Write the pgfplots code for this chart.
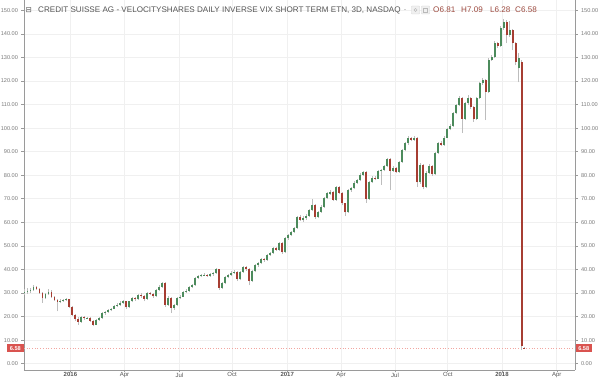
\documentclass[border=0pt]{standalone}
\usepackage{pgfplots}
\pgfplotsset{compat=1.18}
\usepackage{pgfplotstable}
\usepackage{fontspec}
\setmainfont{Liberation Sans}
\newfontfamily\dejavu{DejaVu Sans}
\definecolor{upc}{HTML}{4C8B5C}
\definecolor{dnc}{HTML}{A63D32}
\definecolor{wickc}{HTML}{BDBDBD}
\definecolor{gridc}{HTML}{F0F0F0}
\definecolor{axisc}{HTML}{9A9A9A}
\definecolor{labc}{HTML}{7A7A7A}
\definecolor{titc}{HTML}{555555}
\definecolor{ohlcc}{HTML}{9C4A3F}
\definecolor{pricec}{HTML}{D9534F}
\definecolor{dotc}{HTML}{F2A6A0}

% bar index, open, high, low, close
\pgfplotstableread{
x o h l c
0 29.8 31.6 29.2 30.4
1 30.4 32.0 29.6 30.8
2 30.8 32.2 30.2 31.4
3 31.4 33.2 31.0 32.6
7 28.0 30.0 27.4 29.6
8 29.6 31.6 29.2 30.6
12 26.3 27.4 25.6 26.8
13 26.8 27.6 26.2 27.0
14 27.0 27.9 26.4 27.4
19 17.8 20.2 17.4 19.6
21 19.2 20.0 18.8 19.4
24 16.6 18.9 16.2 18.6
25 18.6 19.8 18.2 19.4
26 19.4 21.8 19.0 21.4
27 21.4 22.4 20.8 21.9
28 21.9 23.0 21.4 22.6
29 22.6 23.8 22.2 23.4
30 23.4 24.8 23.0 24.4
31 24.4 25.6 24.0 25.0
32 25.0 26.4 24.6 25.8
33 25.8 27.0 25.4 26.4
35 23.9 26.8 23.6 26.4
36 26.4 28.4 26.0 27.9
38 27.3 29.6 27.0 29.2
41 27.6 30.4 27.2 30.0
44 28.6 31.6 28.2 31.3
45 31.3 33.2 30.8 32.7
46 32.7 34.8 32.2 34.2
48 25.0 28.6 24.6 27.8
50 23.6 25.4 22.8 24.9
51 24.9 28.2 24.6 27.9
52 27.9 29.0 27.4 28.5
53 28.5 30.8 28.2 30.4
54 30.4 31.6 30.0 31.0
55 31.0 33.0 30.6 32.6
56 32.6 33.8 32.2 33.2
57 33.2 36.8 33.0 36.4
58 36.4 37.6 36.0 37.0
59 37.0 38.2 36.6 37.7
60 37.7 38.4 37.2 37.8
62 37.2 38.4 36.8 37.9
63 37.9 38.8 37.4 38.3
64 38.3 40.6 38.0 40.0
66 32.2 34.8 31.6 34.2
67 34.2 37.0 33.8 36.6
68 36.6 38.2 36.2 37.7
69 37.7 39.2 37.2 38.6
70 38.6 39.6 38.0 39.0
72 35.8 39.4 35.4 39.0
73 39.0 41.6 38.6 41.2
76 35.2 39.6 34.8 39.2
77 39.2 42.2 38.8 41.8
78 41.8 43.2 41.2 42.7
79 42.7 44.8 42.2 44.4
81 44.0 46.6 43.6 46.2
82 46.2 47.6 45.6 47.0
83 47.0 49.4 46.6 49.0
85 48.4 51.6 48.0 51.2
87 47.2 53.6 46.8 53.2
88 53.2 55.2 52.6 54.6
89 54.6 56.4 54.0 56.0
90 56.0 58.0 55.4 57.6
91 57.6 62.8 57.2 62.3
93 61.0 62.8 60.2 61.8
94 61.8 63.4 61.2 62.8
95 62.8 65.8 62.4 65.2
96 65.2 70.0 64.8 67.4
98 62.2 65.0 61.8 64.4
99 64.4 67.2 64.0 66.6
100 66.6 70.6 66.2 70.2
101 70.2 72.8 69.8 72.4
102 72.2 73.8 71.6 73.0
104 69.6 75.6 69.2 75.0
108 64.2 74.0 64.0 73.6
109 73.6 75.0 73.0 74.4
110 74.4 77.4 74.0 76.8
111 76.8 78.4 76.2 77.8
112 77.8 80.8 77.4 80.2
113 80.2 82.0 79.8 81.4
115 70.0 77.6 69.6 77.0
116 77.0 79.6 76.6 79.0
118 78.6 82.2 78.2 81.6
119 81.6 82.8 76.0 82.2
120 82.2 84.4 81.6 83.8
121 83.8 87.4 83.4 86.8
123 82.0 83.8 81.4 83.0
125 81.4 86.0 81.0 85.6
126 85.6 91.2 85.2 90.7
127 90.7 94.2 90.2 93.6
128 93.6 96.6 93.0 95.8
130 95.0 96.8 94.6 95.8
132 77.0 85.0 76.4 84.3
134 75.0 81.6 74.4 81.0
135 81.0 84.6 80.4 84.0
137 80.4 89.8 80.0 89.4
138 89.4 94.2 89.0 93.6
140 93.0 96.6 92.6 96.0
141 96.0 100.2 95.6 99.6
142 99.6 101.8 99.0 101.0
143 101.0 107.0 100.6 106.4
144 106.4 110.4 105.8 109.7
145 109.7 113.6 109.2 112.7
147 104.0 111.2 103.4 110.6
148 110.6 114.0 110.0 112.7
151 104.0 113.4 103.4 112.7
152 112.7 119.6 112.2 119.0
153 119.0 121.2 118.4 120.3
155 115.5 129.6 115.0 129.0
156 129.0 131.0 128.4 130.0
157 130.0 136.8 129.6 136.0
159 135.0 143.2 134.6 142.4
160 142.4 146.4 141.8 145.0
162 139.4 145.6 138.6 141.6
165 125.4 132.0 119.4 129.7
}\uptab

\pgfplotstableread{
x o h l c
4 32.6 33.0 31.2 31.8
5 31.8 32.0 29.6 30.2
6 30.2 30.6 25.8 28.0
9 30.6 31.2 27.8 28.4
10 28.4 28.8 26.8 27.2
11 27.2 27.6 22.2 26.3
15 27.4 27.6 23.8 24.2
16 24.2 24.6 20.2 20.8
17 20.8 21.2 18.0 18.8
18 18.8 19.6 16.6 17.8
20 19.6 20.4 18.6 19.2
22 19.4 19.8 17.8 18.2
23 18.2 18.6 15.8 16.6
34 26.4 26.8 23.4 23.9
37 27.9 28.4 26.8 27.3
39 29.2 29.8 28.0 28.6
40 28.6 29.0 26.4 27.6
42 30.0 30.6 29.0 29.6
43 29.6 30.0 28.0 28.6
47 34.2 34.6 24.2 25.0
49 27.8 28.2 21.4 23.6
61 37.8 38.2 36.8 37.2
65 40.0 40.2 31.2 32.2
71 39.0 39.4 35.0 35.8
74 41.2 41.6 39.4 40.0
75 40.0 40.4 33.2 35.2
80 44.4 45.0 43.2 44.0
84 49.0 49.6 47.8 48.4
86 51.2 51.6 46.6 47.2
92 62.3 62.9 60.6 61.0
97 67.4 67.8 61.6 62.2
103 73.0 73.4 69.0 69.6
105 75.0 75.4 72.0 72.6
106 72.6 73.0 67.2 68.0
107 68.0 68.4 62.6 64.2
114 81.4 81.8 68.4 70.0
117 79.0 79.8 77.8 78.6
122 86.8 87.2 73.8 82.0
124 83.0 83.4 80.8 81.4
129 95.8 96.4 94.4 95.0
131 95.8 96.2 75.0 77.0
133 84.3 84.8 74.0 75.0
136 84.0 84.4 79.8 80.4
139 93.6 94.4 92.2 93.0
146 112.7 113.2 97.9 104.0
149 112.7 113.2 108.2 109.0
150 109.0 109.6 102.6 104.0
154 120.3 120.8 103.4 115.5
158 136.0 136.6 134.2 135.0
161 145.0 146.0 136.0 139.4
163 141.6 142.2 133.0 136.0
164 136.0 136.6 126.6 128.0
166 128.0 129.0 5.9 7.6
166.7 6.81 7.09 6.28 6.58
}\dntab

\pgfplotsset{
  tvaxis/.style={
    at={(24pt,10pt)}, anchor=south west,
    scale only axis, width=551pt, height=370pt,
    xmin=-0.1667, xmax=183.77, ymin=-2.7, ymax=154.4,
    axis line style={-, draw=axisc, line width=0.8pt},
    ytick={0,10,...,150},
    yticklabel style={font=\fontsize{5.6}{6}\selectfont, text=labc,
      /pgf/number format/fixed, /pgf/number format/fixed zerofill,
      /pgf/number format/precision=2},
    /pgf/number format/assume math mode=true,
    tick align=outside, major tick length=2.5pt,
    tick style={axisc, line width=0.6pt},
  },
  wick/.style={draw=none, mark=none, forget plot,
    error bars/.cd, y dir=plus, y explicit, error mark=none,
    error bar style={draw=wickc, solid, line width=0.7pt}},
  body/.style={draw=none, mark=none, forget plot,
    error bars/.cd, y dir=plus, y explicit, error mark=none,
    error bar style={draw=#1, solid, line width=1.9pt}},
}

\begin{document}
\begin{tikzpicture}[x=1pt,y=1pt]
\path[use as bounding box] (0,0) rectangle (600,380);

\begin{axis}[tvaxis,
  axis x line*=bottom, axis y line*=left,
  clip=false,
  grid=major, major grid style={gridc, line width=0.7pt},
  xtick={15.33,33.4,51.7,69.3,87.7,105.7,123.7,141.3,159.4,177.7},
  xticklabels={\textbf{2016},Apr,Jul,Oct,\textbf{2017},Apr,Jul,Oct,\textbf{2018},Apr},
  xticklabel style={font=\fontsize{6}{7}\selectfont, text=titc, inner sep=0.5pt, yshift=0.5pt},
]
% last price line
\addplot[dotc, dotted, line width=0.7pt, forget plot] coordinates {(-0.1667,6.58) (183.77,6.58)};
% wicks
\addplot[wick] table[x=x, y=l, y error plus expr=\thisrow{h}-\thisrow{l}] {\uptab};
\addplot[wick] table[x=x, y=l, y error plus expr=\thisrow{h}-\thisrow{l}] {\dntab};
% bodies
\addplot[body=upc] table[x=x, y=o, y error plus expr=\thisrow{c}-\thisrow{o}] {\uptab};
\addplot[body=dnc] table[x=x, y=c, y error plus expr=\thisrow{o}-\thisrow{c}] {\dntab};

\node[fill=pricec, text=white, anchor=east, inner sep=0pt, minimum width=17pt, minimum height=8pt,
  font=\bfseries\fontsize{5.6}{6}\selectfont] at (axis cs:-0.1667,6.58) {6.58};
\node[fill=pricec, text=white, anchor=west, inner sep=0pt, minimum width=17pt, minimum height=8pt,
  font=\bfseries\fontsize{5.6}{6}\selectfont] at (axis cs:183.77,6.58) {6.58};
\end{axis}

\begin{axis}[tvaxis,
  axis y line*=right, axis x line=none,
]
\addplot[draw=none] coordinates {(0,0)};
\end{axis}

% legend line
\node[anchor=base west, inner sep=0pt, text=titc, font=\dejavu\fontsize{7.5}{8}\selectfont] at (25.5,367.5) {⊟};
\node[anchor=base west, inner sep=0pt, text=titc, font=\fontsize{8.1}{9}\selectfont] at (38,367.5)
  {CREDIT SUISSE AG - VELOCITYSHARES DAILY INVERSE VIX SHORT TERM ETN, 3D, NASDAQ};
\node[anchor=base west, inner sep=0pt, text=labc, font=\fontsize{6}{7}\selectfont] at (404,368.5) {-};
\draw[fill=gray!12, draw=gray!35, line width=0.4pt, rounded corners=0.6pt] (411.5,366) rectangle (419.5,374);
\draw[fill=gray!12, draw=gray!35, line width=0.4pt, rounded corners=0.6pt] (421.5,366) rectangle (429.5,374);
\draw[gray!55, line width=0.5pt] (415.5,370) circle (1.6);
\draw[gray!55, line width=0.5pt] (423.5,368) rectangle (427.5,372);
\node[anchor=base west, inner sep=0pt, text=ohlcc, font=\fontsize{8.1}{9}\selectfont] at (433,367.5) {O6.81};
\node[anchor=base west, inner sep=0pt, text=ohlcc, font=\fontsize{8.1}{9}\selectfont] at (461,367.5) {H7.09};
\node[anchor=base west, inner sep=0pt, text=ohlcc, font=\fontsize{8.1}{9}\selectfont] at (490,367.5) {L6.28};
\node[anchor=base west, inner sep=0pt, text=ohlcc, font=\fontsize{8.1}{9}\selectfont] at (515,367.5) {C6.58};
\end{tikzpicture}
\end{document}
